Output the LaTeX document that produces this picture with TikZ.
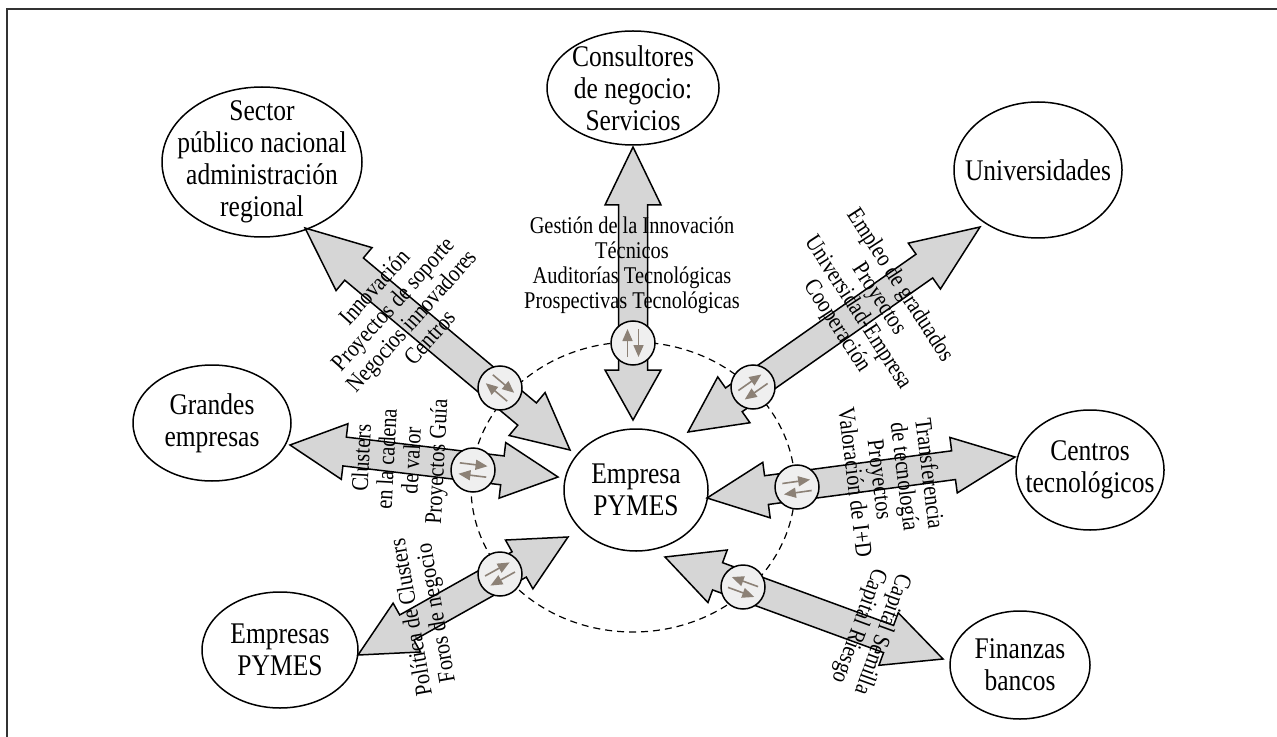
\documentclass[tikz,border=0pt]{standalone}
\usepackage{fontspec}
\setmainfont{Liberation Serif}[FakeStretch=0.85]
\usetikzlibrary{calc,arrows.meta,shapes.geometric}
\definecolor{arrowfill}{HTML}{D6D6D6}
\definecolor{badgefill}{HTML}{EFEFEF}
\definecolor{taupe}{HTML}{8C8176}
\definecolor{framegray}{HTML}{333333}
\tikzset{
  ent/.style={draw, line width=0.75pt, ellipse, inner sep=0pt},
  entlbl/.style={align=center, inner sep=0pt, font=\fontsize{15}{16}\selectfont},
  flowlbl/.style={align=center, inner sep=0pt, font=\fontsize{12}{12.5}\selectfont},
  blockarrow/.style={draw, line width=0.75pt, fill=arrowfill, line join=miter},
  badge/.style={draw, line width=0.75pt, circle, fill=badgefill, minimum size=22pt, inner sep=0pt},
  barrow/.style={taupe, line width=0.8pt, -{Triangle[length=6pt,width=5pt]}},
  ring/.style={draw, dashed, dash pattern=on 3.5pt off 2.5pt, line width=0.6pt, ellipse, inner sep=0pt}
}
\newcommand{\dblarrow}[4]{%
  \draw[blockarrow] (#1)
   -- ($(#1)!#3!(#2)!14pt!90:(#2)$)
   -- ($(#1)!#3!(#2)!7.25pt!90:(#2)$)
   -- ($(#2)!#4!(#1)!7.25pt!-90:(#1)$)
   -- ($(#2)!#4!(#1)!14pt!-90:(#1)$)
   -- (#2)
   -- ($(#2)!#4!(#1)!14pt!90:(#1)$)
   -- ($(#2)!#4!(#1)!7.25pt!90:(#1)$)
   -- ($(#1)!#3!(#2)!7.25pt!-90:(#2)$)
   -- ($(#1)!#3!(#2)!14pt!-90:(#2)$)
   -- cycle;}
\newcommand{\badgeat}[4]{%
  \node[badge] (#1) at (#2) {};
  \begin{scope}[shift={(#1.center)}, rotate=#3, xscale=#4]
    \draw[barrow] (-14,-5.5) -- (14,-5.5);
    \draw[barrow] (14,5.5) -- (-14,5.5);
  \end{scope}}
\begin{document}
\begin{tikzpicture}[x=0.5pt,y=-0.5pt]
\useasboundingbox (0,0) rectangle (1277,737);
% frame
\draw[framegray, line width=1pt] (7,737) -- (7,9) -- (1277,9);
% dashed ring
\node[ring, minimum width=162pt, minimum height=145pt] (ring) at (633,487) {};
% tips
\coordinate (vT) at (633,147);   \coordinate (vB) at (633,420);
\coordinate (sT) at (305,228);   \coordinate (sB) at (570,450);
\coordinate (gT) at (290,445);   \coordinate (gB) at (558,477);
\coordinate (pT) at (358,655);   \coordinate (pB) at (568,537);
\coordinate (uT) at (980,227);   \coordinate (uB) at (688,432);
\coordinate (cT) at (1015,457);  \coordinate (cB) at (707,498);
\coordinate (fT) at (943,659);   \coordinate (fB) at (665,557);
% block arrows
\dblarrow{vT}{vB}{29pt}{25pt}
\dblarrow{sT}{sB}{32pt}{28pt}
\dblarrow{gT}{gB}{27.5pt}{28pt}
\dblarrow{pT}{pB}{28pt}{28pt}
\dblarrow{uT}{uB}{34pt}{28pt}
\dblarrow{cT}{cB}{31pt}{30pt}
\dblarrow{fT}{fB}{29pt}{28pt}
% badges
\badgeat{bV}{633,343}{90}{1}
\badgeat{bS}{500,388}{-40}{1}
\badgeat{bG}{473,470}{-7}{1}
\badgeat{bP}{500,574}{29}{1}
\badgeat{bU}{753,387}{35}{1}
\badgeat{bC}{797,487}{8}{1}
\badgeat{bF}{743,587}{-20}{-1}
% flow labels
\node[flowlbl] (lV) at (632,265) {Gestión de la Innovación\\Técnicos\\Auditorías Tecnológicas\\Prospectivas Tecnológicas};
\node[flowlbl, rotate=48] (lS) at (402,312) {Innovación\\Proyectos de soporte\\Negocios innovadores\\Centros};
\node[flowlbl, rotate=-57] (lU) at (868,306) {Empleo de graduados\\Proyectos\\Universidad-Empresa\\Cooperación};
\node[flowlbl, rotate=87] (lG) at (401,460) {Clusters\\en la cadena\\de valor\\Proyectos Guía};
\node[flowlbl, rotate=100] (lP) at (425,615) {Política de Clusters\\Foros de negocio};
\node[flowlbl, rotate=-83] (lC) at (893,478) {Transferencia\\de tecnología\\Proyectos\\Valoración de I+D};
\node[flowlbl, rotate=-110] (lF) at (870,630) {Capital Semilla\\Capital Riesgo};
% entities
\node[ent, minimum width=100pt, minimum height=75pt] (sector) at (262,162) {};
\node[entlbl] (sectorL) at (sector) {Sector\\público nacional\\administración\\regional};
\node[ent, minimum width=86pt, minimum height=57pt] (consult) at (633,88) {};
\node[entlbl] (consultL) at (consult) {Consultores\\de negocio:\\Servicios};
\node[ent, minimum width=84pt, minimum height=68pt] (univ) at (1038,170) {};
\node[entlbl] (univL) at (univ) {Universidades};
\node[ent, minimum width=79pt, minimum height=58pt] (grandes) at (212,423) {};
\node[entlbl] (grandesL) at (grandes) {Grandes\\empresas};
\node[ent, minimum width=78pt, minimum height=58pt] (pymes) at (280,650) {};
\node[entlbl] (pymesL) at (pymes) {Empresas\\PYMES};
\node[ent, minimum width=72pt, minimum height=61pt] (empresa) at (636,490) {};
\node[entlbl] (empresaL) at (empresa) {Empresa\\PYMES};
\node[ent, minimum width=74pt, minimum height=60pt] (centros) at (1090,470) {};
\node[entlbl] (centrosL) at (centros) {Centros\\tecnológicos};
\node[ent, minimum width=70pt, minimum height=54pt] (finanzas) at (1020,665) {};
\node[entlbl] (finanzasL) at (finanzas) {Finanzas\\bancos};
\end{tikzpicture}
\end{document}
